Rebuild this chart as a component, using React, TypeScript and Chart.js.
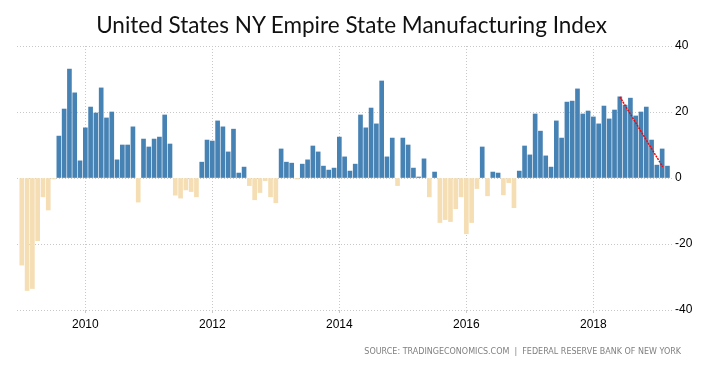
import React, { useEffect, useRef } from 'react';
import { Chart, registerables } from 'chart.js';

Chart.register(...registerables);

// Monthly values, Jan 2009 .. Mar 2019
const values2009 = [-26.4, -34.1, -33.5, -19.0, -5.7, -9.7, -0.3, 12.7, 20.9, 33.0, 25.8, 5.2];
const values2010 = [15.2, 21.5, 19.7, 27.3, 18.2, 20.0, 5.5, 10.0, 10.0, 15.5, -7.3, 11.8];
const values2011 = [9.4, 11.8, 12.4, 19.1, 10.3, -5.2, -6.1, -3.6, -4.1, -5.7, 4.8, 11.5];
const values2012 = [11.2, 17.3, 15.5, 7.9, 14.8, 1.5, 3.3, -2.3, -6.6, -4.4, -0.8, -5.7];
const values2013 = [-7.5, 8.8, 4.8, 4.5, -0.3, 4.2, 5.5, 9.7, 7.9, 3.6, 2.4, 3.0];
const values2014 = [12.4, 6.4, 2.1, 4.2, 19.1, 15.2, 21.2, 16.4, 29.4, 6.4, 12.1, -2.3];
const values2015 = [12.1, 10.0, 3.0, 0.3, 5.8, -5.7, 1.8, -13.5, -12.6, -13.2, -9.3, -5.7];
const values2016 = [-16.9, -13.5, -3.2, 9.4, -5.4, 1.8, 1.5, -5.1, -1.4, -9.0, 2.1, 9.7];
const values2017 = [7.0, 19.4, 14.2, 6.7, 3.3, 17.3, 12.1, 23.0, 23.3, 27.0, 19.4, 20.3];
const values2018 = [18.5, 16.4, 21.8, 17.9, 20.6, 24.6, 22.1, 24.2, 18.8, 20.0, 21.5, 11.5];
const values2019 = [3.9, 8.8, 3.6];

const monthlyValues = [
  ...values2009, ...values2010, ...values2011, ...values2012, ...values2013, ...values2014,
  ...values2015, ...values2016, ...values2017, ...values2018, ...values2019,
];

// month index (0 = Jan 2009) of the year tick labels
const yearTickMonths = [12, 36, 60, 84, 108];
const yearTickLabels = ['2010', '2012', '2014', '2016', '2018'];

// trend line (month index, value)
const trendMonths = [113, 121.1];
const trendValues = [24.6, 3.4];

const yMin = -40;
const yMax = 40;
const yStep = 20;

const TITLE = 'United States NY Empire State Manufacturing Index';
const SOURCE = 'SOURCE: TRADINGECONOMICS.COM\u00a0 |\u00a0 FEDERAL RESERVE BANK OF NEW YORK';

const tickFont = { family: "'Liberation Sans', Arial, sans-serif", size: 12 };

export default function App() {
  const ref = useRef<HTMLCanvasElement>(null);

  useEffect(() => {
    const barData = monthlyValues.map((v, i) => ({ x: i, y: v }));
    const trendData = trendMonths.map((m, i) => ({ x: m, y: trendValues[i] }));
    const chart = new Chart(ref.current as HTMLCanvasElement, {
      type: 'bar',
      data: {
        datasets: [
          {
            type: 'line',
            data: trendData,
            borderColor: '#ff0000',
            borderWidth: 1.5,
            borderDash: [2, 1],
            pointRadius: 0,
            order: 0,
          } as any,
          {
            type: 'bar',
            data: barData,
            backgroundColor: (ctx: any) => (ctx.raw && ctx.raw.y >= 0 ? '#4682b4' : '#f5deb3'),
            barThickness: 4,
            order: 1,
          } as any,
        ],
      },
      options: {
        animation: false,
        responsive: false,
        maintainAspectRatio: false,
        layout: { padding: { left: 9, top: 38, right: 0, bottom: 0 } },
        plugins: {
          legend: { display: false },
          tooltip: { enabled: false },
          title: { display: false },
        },
        scales: {
          x: {
            type: 'linear',
            offset: false,
            min: -0.907,
            max: 122.86,
            afterBuildTicks: (scale: any) => {
              scale.ticks = yearTickMonths.map((v) => ({ value: v }));
            },
            afterFit: (scale: any) => {
              scale.height = 59;
            },
            ticks: {
              callback: (v: any) => {
                const idx = yearTickMonths.indexOf(Number(v));
                return idx >= 0 ? yearTickLabels[idx] : '';
              },
              color: '#000',
              font: tickFont,
              padding: 4,
              maxRotation: 0,
              autoSkip: false,
            },
            grid: { color: '#c8c8c8', tickLength: 3, drawTicks: true, lineWidth: 1, offset: false },
            border: { display: false, dash: [1, 2] },
          },
          y: {
            position: 'right',
            min: yMin,
            max: yMax,
            afterFit: (scale: any) => {
              scale.width = 33;
            },
            ticks: {
              stepSize: yStep,
              color: '#000',
              font: tickFont,
              padding: 3,
            },
            grid: { color: '#c8c8c8', drawTicks: false, lineWidth: 1 },
            border: { display: false, dash: [1, 2] },
          },
        } as any,
      },
    });
    return () => chart.destroy();
  }, []);

  return (
    <div style={{ position: 'relative', width: 697, height: 361 }}>
      <canvas ref={ref} width={697} height={361} style={{ display: 'block' }} />
      <div
        style={{
          position: 'absolute',
          left: 0,
          width: 687,
          top: 5,
          textAlign: 'center',
          fontFamily: 'Lato, sans-serif',
          fontSize: 22.5,
          lineHeight: '23px',
          color: '#111',
          whiteSpace: 'nowrap',
        }}
      >
        {TITLE}
      </div>
      <div
        style={{
          position: 'absolute',
          right: 24,
          top: 340,
          fontFamily: "'DejaVu Sans', sans-serif",
          fontSize: 8,
          lineHeight: '8px',
          color: '#808080',
          whiteSpace: 'nowrap',
        }}
      >
        {SOURCE}
      </div>
    </div>
  );
}
